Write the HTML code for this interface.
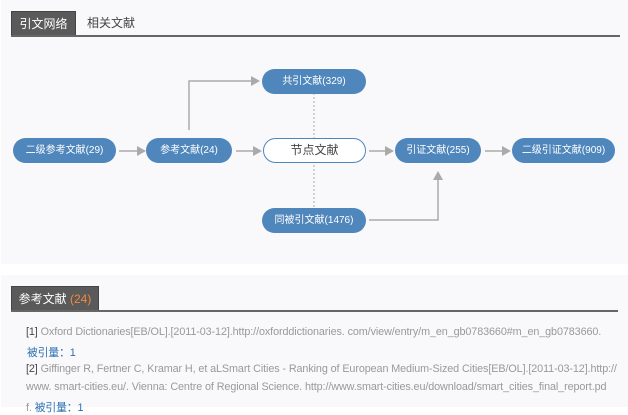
<!DOCTYPE html>
<html><head><meta charset="utf-8"><style>
*{margin:0;padding:0;box-sizing:border-box}
body{width:628px;height:407px;background:#fff;position:relative;overflow:hidden;font-family:"Liberation Sans","Noto Sans CJK SC",sans-serif}
.panel{position:absolute;left:1px;width:627px;background:#f9f9fb}
.tab{position:absolute;background:#5a5a5a;color:#fff;font-size:12px;line-height:24px;text-align:center;border:1px solid #444;border-bottom:none}
.line{position:absolute;height:2px;background:#666}
.node{position:absolute;height:25px;border-radius:13px;background:#4f86bb;color:#fff;font-size:10px;line-height:25px;text-align:center;white-space:nowrap}
.txt{position:absolute;left:26px;font-size:10.8px;color:#999;white-space:nowrap;letter-spacing:-0.1px}
.txt b{font-weight:normal;color:#444}
.cite{color:#2a6fb0}
</style></head><body>
<div class="panel" style="top:0;height:264px"></div>
<div class="panel" style="top:275px;height:132px"></div>

<div class="tab" style="left:11px;top:11px;width:65px;height:25px">引文网络</div>
<div style="position:absolute;left:87px;top:11px;font-size:12px;line-height:24px;color:#444">相关文献</div>
<div class="line" style="left:11px;top:35px;width:609px"></div>

<svg style="position:absolute;left:0;top:0" width="628" height="264">
<g stroke="#aaa" stroke-width="1.5" fill="none">
<line x1="119" y1="151" x2="138" y2="151"/>
<line x1="236" y1="151" x2="254" y2="151"/>
<line x1="369" y1="151" x2="386" y2="151"/>
<line x1="485" y1="151" x2="503" y2="151"/>
<polyline points="189,130 189,81 252,81"/>
<polyline points="369,220 438,220 438,177"/>
<line x1="314" y1="93" x2="314" y2="208" stroke-dasharray="2,2" stroke-width="1"/>
</g>
<g fill="#aaa">
<polygon points="146,151 137,146 137,156"/>
<polygon points="262,151 253,146 253,156"/>
<polygon points="394,151 385,146 385,156"/>
<polygon points="511,151 502,146 502,156"/>
<polygon points="260,81 251,76 251,86"/>
<polygon points="438,171 433,180 443,180"/>
</g>
</svg>

<div class="node" style="left:13px;top:138px;width:103px">二级参考文献(29)</div>
<div class="node" style="left:146px;top:138px;width:86px">参考文献(24)</div>
<div class="node" style="left:263px;top:138px;width:103px;background:#fff;border:1.5px solid #4f86bb;color:#444;font-size:12px;line-height:22px">节点文献</div>
<div class="node" style="left:395px;top:138px;width:86px">引证文献(255)</div>
<div class="node" style="left:512px;top:138px;width:103px">二级引证文献(909)</div>
<div class="node" style="left:262px;top:69px;width:104px">共引文献(329)</div>
<div class="node" style="left:262px;top:208px;width:104px">同被引文献(1476)</div>

<div class="tab" style="left:11px;top:286px;width:88px;height:25px">参考文献 <span style="color:#f08a3c">(24)</span></div>
<div class="line" style="left:11px;top:310px;width:607px"></div>

<div class="txt" style="top:326px"><b>[1]</b> Oxford Dictionaries[EB/OL].[2011-03-12].http://oxforddictionaries. com/view/entry/m_en_gb0783660#m_en_gb0783660.</div>
<div class="txt cite" style="top:344px;left:27px">被引量：1</div>
<div class="txt" style="top:363px"><b>[2]</b> Giffinger R, Fertner C, Kramar H, et aLSmart Cities - Ranking of European Medium-Sized Cities[EB/OL].[2011-03-12].http://</div>
<div class="txt" style="top:381px">www. smart-cities.eu/. Vienna: Centre of Regional Science. http://www.smart-cities.eu/download/smart_cities_final_report.pd</div>
<div class="txt" style="top:399px">f. <span class="cite">被引量：1</span></div>
</body></html>
